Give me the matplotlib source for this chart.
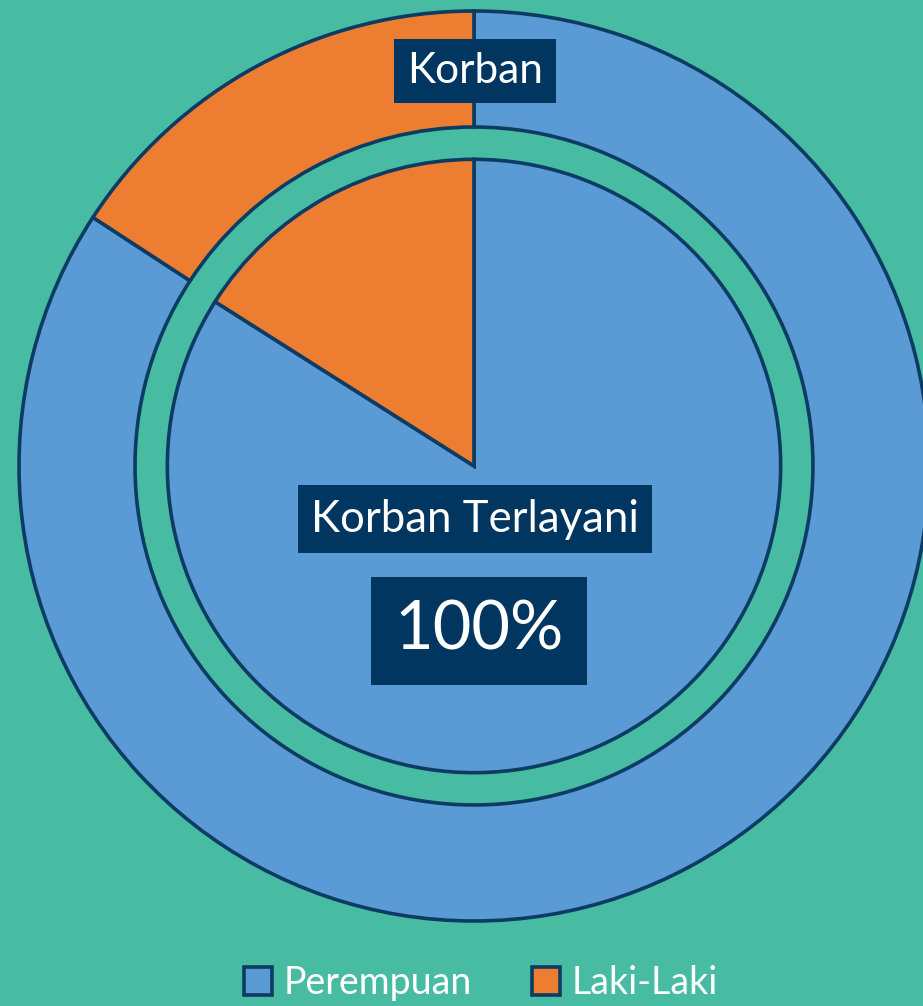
import matplotlib.pyplot as plt

plt.rcParams['font.family'] = ['Lato', 'DejaVu Sans']

# Data
kategori = ['Perempuan', 'Laki-Laki']
korban = [84.2, 15.8]            # cincin luar
korban_terlayani = [84.0, 16.0]  # pie dalam
warna = ['#5B9BD5', '#ED7D31']

bg = '#48BBA3'
garis = '#0C3B63'
navy = '#003660'

fig = plt.figure(figsize=(9.23, 10.06), dpi=100, facecolor=bg)
W, H = 923, 1006
cx, cy, R = 474, 466, 455
ax = fig.add_axes([(cx - R) / W, (H - cy - R) / H, 2 * R / W, 2 * R / H])
ax.set_facecolor(bg)

# cincin luar
ax.pie(korban, radius=1.0, colors=warna, startangle=90, counterclock=False,
       wedgeprops=dict(width=0.255, edgecolor=garis, linewidth=2.6))
# pie dalam
wedges, _ = ax.pie(korban_terlayani, radius=0.674, colors=warna, startangle=90,
                   counterclock=False,
                   wedgeprops=dict(edgecolor=garis, linewidth=2.6))
ax.set_xlim(-1, 1)
ax.set_ylim(-1, 1)
ax.set_aspect('equal')
ax.axis('off')

kotak = dict(boxstyle='square,pad=0.3', facecolor=navy, edgecolor='none')
ax.text(1 / R, (cy - 71) / R, 'Korban', ha='center', va='center', fontsize=30.5,
        color='white', bbox=kotak)
ax.text(1 / R, (cy - 519) / R, 'Korban Terlayani', ha='center', va='center',
        fontsize=31.5, color='white', bbox=kotak)
ax.text(5 / R, (cy - 631) / R, '100%', ha='center', va='center', fontsize=48,
        color='white', bbox=dict(boxstyle='square,pad=0.35', facecolor=navy,
                                 edgecolor='none'))

fig.legend(wedges, kategori, loc='center', bbox_to_anchor=(481 / W, 23 / H),
           ncol=2, frameon=False, fontsize=27, labelcolor='white',
           handlelength=0.75, handleheight=0.75, handletextpad=0.3,
           columnspacing=1.6)

fig.savefig('out.png', dpi=100, facecolor=bg)
